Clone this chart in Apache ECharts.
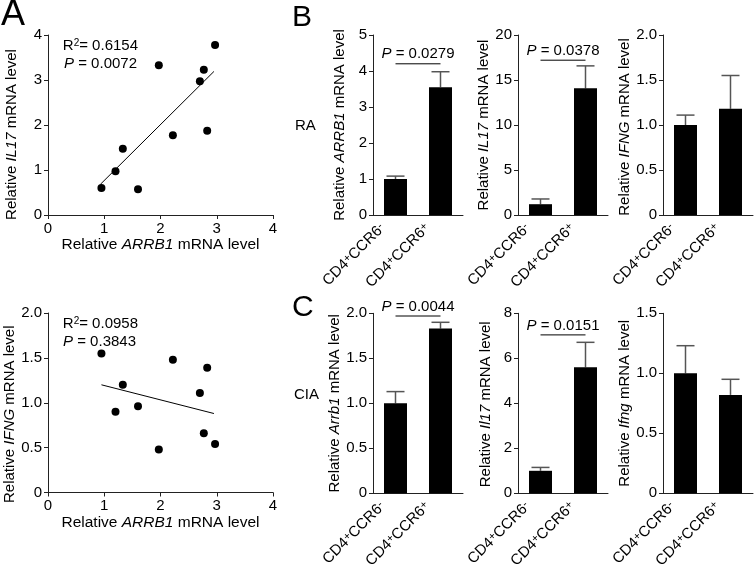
<!DOCTYPE html>
<html><head><meta charset="utf-8">
<script src="https://cdn.jsdelivr.net/npm/echarts@6/dist/echarts.min.js"></script>
<style>html,body{margin:0;padding:0;background:#fff}#c{width:756px;height:568px}</style>
</head><body><div id="c"></div>
<script>
// ---------- data ----------
const arrb1X = [0.95, 1.20, 1.33, 1.60, 1.97, 2.22, 2.70, 2.77, 2.83, 2.97];
const il17Y  = [0.60, 0.97, 1.47, 0.57, 3.33, 1.77, 2.97, 3.23, 1.87, 3.78];
const ifngY  = [1.55, 0.90, 1.20, 0.96, 0.48, 1.48, 1.11, 0.66, 1.39, 0.54];
const il17Fit = [[0.93, 0.68], [2.95, 3.19]];
const ifngFit = [[0.95, 1.20], [2.95, 0.88]];
const il17Stats = ['0.6154', '0.0072'];
const ifngStats = ['0.0958', '0.3843'];

const categories = ['CD4+CCR6-', 'CD4+CCR6+'];
const raArrb1 = [1.00, 3.55], raArrb1Err = [0.08, 0.43];
const raIl17  = [1.20, 14.07], raIl17Err = [0.58, 2.50];
const raIfng  = [1.00, 1.18], raIfngErr = [0.11, 0.37];
const ciaArrb1 = [1.00, 1.83], ciaArrb1Err = [0.13, 0.07];
const ciaIl17  = [1.00, 5.60], ciaIl17Err = [0.15, 1.11];
const ciaIfng  = [1.00, 0.82], ciaIfngErr = [0.23, 0.13];
const pTexts = ['0.0279', '0.0378', null, '0.0044', '0.0151', null];
const pLevels = [4.2, 17.2, null, 1.97, 7.04, null];

// ---------- styles ----------
const FONT = '"Liberation Sans", Arial, Helvetica, sans-serif';
const AX = '#222';
const FS = 15;
function richFor(fs) {
  return {
    n: {fontSize: fs, fontFamily: FONT, color: '#000'},
    i: {fontSize: fs, fontFamily: FONT, color: '#000', fontStyle: 'italic'}
  };
}
const dec1 = v => v === 0 ? '0' : v.toFixed(1);
const int0 = v => String(v);

function yAxisCfg(gi, min, max, interval, fmt, gene, nameGap, padEnd) {
  return {
    type: 'value', gridIndex: gi, min, max, interval,
    axisLine: {show: true, lineStyle: {color: AX, width: 1}},
    axisTick: {show: true, length: 4, lineStyle: {color: AX}},
    splitLine: {show: false},
    axisLabel: {fontSize: FS, fontFamily: FONT, color: '#000', margin: 6, formatter: fmt},
    name: '{n|Relative }{i|' + gene + '}{n| mRNA level}',
    nameLocation: 'middle', nameRotate: 90, nameGap,
    nameTextStyle: {fontSize: FS, fontFamily: FONT, color: '#000', rich: richFor(FS), padding: [0, padEnd || 0, 0, 0]}
  };
}
function xValAxis(gi) {
  return {
    type: 'value', gridIndex: gi, min: 0, max: 4, interval: 1,
    axisLine: {show: true, lineStyle: {color: AX, width: 1}},
    axisTick: {show: true, length: 4, lineStyle: {color: AX}},
    splitLine: {show: false},
    axisLabel: {fontSize: FS, fontFamily: FONT, color: '#000', margin: 6},
    name: '{n|Relative }{i|ARRB1}{n| mRNA level}',
    nameLocation: 'middle', nameGap: 19,
    nameTextStyle: {fontSize: 15.5, fontFamily: FONT, color: '#000', rich: richFor(15.5)}
  };
}
function xCatAxis(gi) {
  return {
    type: 'category', gridIndex: gi, data: categories,
    axisLine: {show: true, lineStyle: {color: AX, width: 1}},
    axisTick: {show: false},
    axisLabel: {show: false}
  };
}

const grids = [
  {left: 48, top: 35, width: 225, height: 180},
  {left: 48, top: 313, width: 225, height: 179.5},
  {left: 373, top: 35, width: 90, height: 180},
  {left: 518, top: 35, width: 90, height: 180},
  {left: 663, top: 35, width: 90, height: 180},
  {left: 373, top: 313.3, width: 90, height: 180},
  {left: 518, top: 313.3, width: 90, height: 180},
  {left: 663, top: 313.3, width: 90, height: 180}
];

const xAxes = [xValAxis(0), xValAxis(1)];
for (let g = 2; g < 8; g++) xAxes.push(xCatAxis(g));

const yAxes = [
  yAxisCfg(0, 0, 4, 1, int0, 'IL17', 29, 19),
  yAxisCfg(1, 0, 2, 0.5, dec1, 'IFNG', 29, 23),
  yAxisCfg(2, 0, 5, 1, int0, 'ARRB1', 26, 0),
  yAxisCfg(3, 0, 20, 5, int0, 'IL17', 21, 0),
  yAxisCfg(4, 0, 2, 0.5, dec1, 'IFNG', 29, 4),
  yAxisCfg(5, 0, 2, 0.5, dec1, 'Arrb1', 31, 0),
  yAxisCfg(6, 0, 8, 2, int0, 'Il17', 25, 2),
  yAxisCfg(7, 0, 1.5, 0.5, dec1, 'Ifng', 29, 0)
];

const series = [];
[[il17Y, il17Fit], [ifngY, ifngFit]].forEach((pair, k) => {
  series.push({
    type: 'scatter', xAxisIndex: k, yAxisIndex: k, symbolSize: 8,
    itemStyle: {color: '#000', opacity: 1},
    data: arrb1X.map((x, i) => [x, pair[0][i]]), z: 3
  });
  series.push({
    type: 'line', xAxisIndex: k, yAxisIndex: k, data: pair[1],
    showSymbol: false, lineStyle: {color: '#000', width: 1}, z: 2
  });
});

function errRender(params, api) {
  const x = api.value(0);
  const p1 = api.coord([x, api.value(1)]);
  const p2 = api.coord([x, api.value(2)]);
  const hw = 9;
  const st = {stroke: '#555', lineWidth: 1.5};
  return {type: 'group', children: [
    {type: 'line', shape: {x1: p1[0], y1: p1[1], x2: p2[0], y2: p2[1]}, style: st},
    {type: 'line', shape: {x1: p2[0] - hw, y1: p2[1], x2: p2[0] + hw, y2: p2[1]}, style: st}
  ]};
}

const catRich = {
  n: {fontSize: 15, fontFamily: FONT, color: '#000'},
  s: {fontSize: 11, fontFamily: FONT, color: '#000', verticalAlign: 'top'}
};
function catLabelRender(params, api) {
  const p = api.coord([api.value(0), 0]);
  const m = categories[params.dataIndex].match(/^CD4(.)CCR6(.)$/);
  return {
    type: 'text', x: p[0] - 13, y: p[1] + 11, rotation: Math.PI / 4,
    style: {
      text: '{n|CD4}{s|' + m[1] + '}{n|CCR6}{s|' + m[2] + '}',
      align: 'right', verticalAlign: 'middle', rich: catRich,
      fontSize: 15, fontFamily: FONT, fill: '#000'
    }
  };
}

const barSets = [
  [raArrb1, raArrb1Err], [raIl17, raIl17Err], [raIfng, raIfngErr],
  [ciaArrb1, ciaArrb1Err], [ciaIl17, ciaIl17Err], [ciaIfng, ciaIfngErr]
];
barSets.forEach((set, k) => {
  const ai = k + 2;
  series.push({
    type: 'bar', xAxisIndex: ai, yAxisIndex: ai, data: set[0],
    barWidth: 23, itemStyle: {color: '#000'}, z: 2
  });
  series.push({
    type: 'custom', xAxisIndex: ai, yAxisIndex: ai, z: 1,
    renderItem: errRender,
    encode: {x: 0, y: [1, 2]},
    data: set[0].map((m, i) => [i, m, m + set[1][i]])
  });
  series.push({
    type: 'custom', xAxisIndex: ai, yAxisIndex: ai, z: 3, silent: true,
    renderItem: catLabelRender,
    encode: {x: 0, y: 1},
    data: categories.map((c, i) => [i, 0])
  });
  if (pTexts[k]) {
    const txt = pTexts[k];
    series.push({
      type: 'custom', xAxisIndex: ai, yAxisIndex: ai, z: 3,
      encode: {x: [0, 1], y: 2},
      data: [[0, 1, pLevels[k]]],
      renderItem: (params, api) => {
        const a = api.coord([api.value(0), api.value(2)]);
        const b = api.coord([api.value(1), api.value(2)]);
        return {type: 'group', children: [
          {type: 'line', shape: {x1: a[0], y1: a[1], x2: b[0], y2: b[1]}, style: {stroke: '#000', lineWidth: 1}},
          {type: 'text', x: (a[0] + b[0]) / 2, y: a[1] - 2, style: {
            text: '{i|P}{n| = ' + txt + '}', align: 'center', verticalAlign: 'bottom',
            fontSize: FS, fontFamily: FONT, fill: '#000', rich: richFor(FS)
          }}
        ]};
      }
    });
  }
});

function txt(x, y, text, size, align, rich) {
  return {type: 'text', x, y, silent: true, style: {
    text, fontSize: size, fontFamily: FONT, fill: '#000', align: align || 'left',
    verticalAlign: 'middle', rich
  }};
}
const statRich = {
  n: {fontSize: FS, fontFamily: FONT, color: '#000'},
  i: {fontSize: FS, fontFamily: FONT, color: '#000', fontStyle: 'italic'},
  s: {fontSize: 10, fontFamily: FONT, color: '#000', verticalAlign: 'top'}
};
const graphics = [
  txt(1, 15, 'A', 36),
  txt(292, 18, 'B', 30),
  txt(292, 308, 'C', 30),
  txt(295, 126, 'RA', 15),
  txt(294, 395, 'CIA', 15),
  txt(138, 46, '{n|R}{s|2}{n|= ' + il17Stats[0] + '}', FS, 'right', statRich),
  txt(137, 64, '{i|P}{n| = ' + il17Stats[1] + '}', FS, 'right', statRich),
  txt(138, 324, '{n|R}{s|2}{n|= ' + ifngStats[0] + '}', FS, 'right', statRich),
  txt(136, 342, '{i|P}{n| = ' + ifngStats[1] + '}', FS, 'right', statRich)
];

const chart = echarts.init(document.getElementById('c'), null, {renderer: 'canvas'});
chart.setOption({
  animation: false,
  backgroundColor: '#fff',
  grid: grids,
  xAxis: xAxes,
  yAxis: yAxes,
  series,
  graphic: graphics
});
</script></body></html>
